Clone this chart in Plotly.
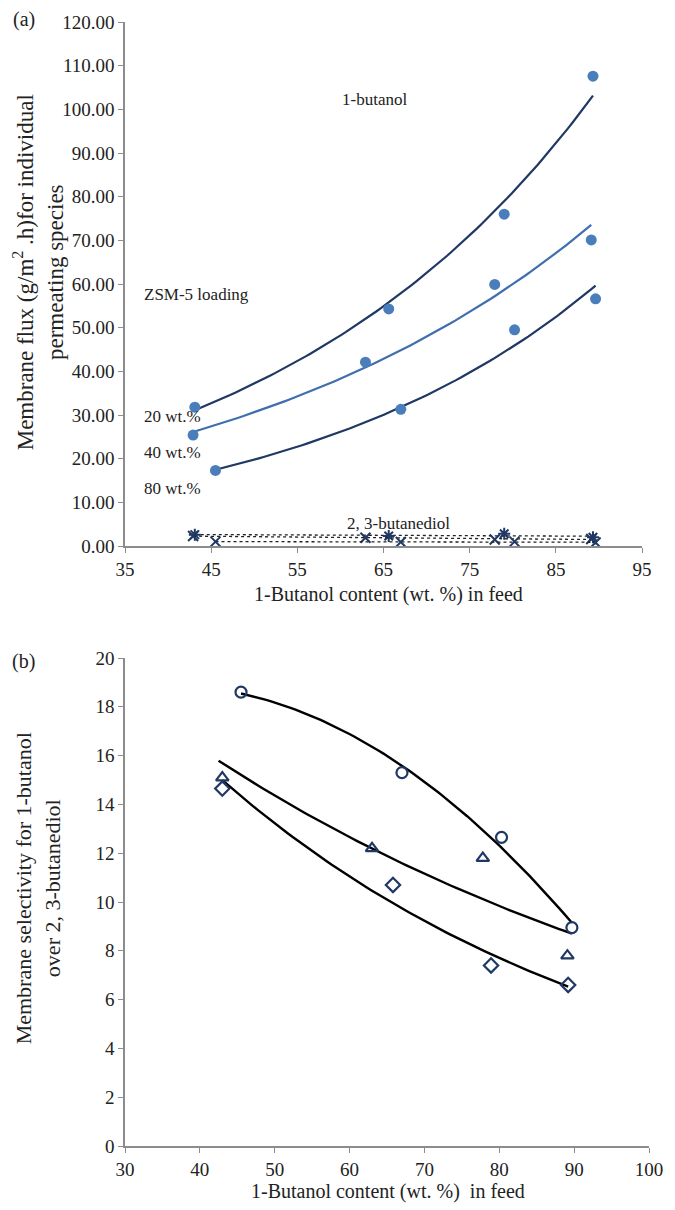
import numpy as np
import plotly.graph_objects as go

# ---- (a) flux of 1-butanol, by ZSM-5 loading ----
feed_20 = [43.1, 65.6, 79.0, 89.3]
butanol_20 = [31.8, 54.3, 76.0, 107.6]
feed_40 = [42.9, 62.9, 77.9, 89.1]
butanol_40 = [25.4, 42.1, 59.9, 70.1]
feed_80 = [45.5, 67.0, 80.2, 89.6]
butanol_80 = [17.3, 31.3, 49.5, 56.6]

# 2,3-butanediol flux for the same membranes
diol_20 = [2.6, 2.3, 2.8, 2.0]
diol_40 = [2.3, 1.9, 1.5, 1.6]
diol_80 = [1.0, 0.9, 1.0, 0.8]

# ---- (b) selectivity 1-butanol / 2,3-butanediol ----
sel_x_circle = [45.5, 67.0, 80.3, 89.7]
sel_circle = [18.6, 15.3, 12.65, 8.95]
sel_x_tri = [43.0, 63.0, 77.8, 89.1]
sel_tri = [15.1, 12.2, 11.8, 7.8]
sel_x_dia = [43.0, 65.8, 78.9, 89.2]
sel_dia = [14.65, 10.7, 7.4, 6.6]

FONT = "Liberation Serif, Times New Roman, serif"
NAVY = "#1F3864"
MID = "#3F6FAE"
DOT = "#4A7EBB"
AXIS = "#8C8C8C"
INK = "#222222"


def exp_trend(x, y, lo=None, hi=None, n=80):
    k, b = np.polyfit(x, np.log(y), 1)
    xs = np.linspace(min(x) if lo is None else lo, max(x) if hi is None else hi, n)
    return xs, np.exp(b + k * xs)


def poly_trend(x, y, deg=2, n=80):
    c = np.polyfit(x, y, deg)
    xs = np.linspace(min(x), max(x), n)
    return xs, np.polyval(c, xs)


fig = go.Figure()

# flux trend lines + points
for fx, fy, col in [(feed_20, butanol_20, NAVY), (feed_40, butanol_40, MID), (feed_80, butanol_80, NAVY)]:
    xs, ys = exp_trend(fx, fy)
    fig.add_trace(go.Scatter(x=xs, y=ys, mode="lines", line=dict(color=col, width=2.2),
                             xaxis="x", yaxis="y", showlegend=False, hoverinfo="skip"))
    fig.add_trace(go.Scatter(x=fx, y=fy, mode="markers",
                             marker=dict(color=DOT, size=11, symbol="circle"),
                             xaxis="x", yaxis="y", showlegend=False))

for fx, fy, sym in [(feed_20, diol_20, "asterisk-open"), (feed_40, diol_40, "x-thin-open"),
                    (feed_80, diol_80, "x-thin-open")]:
    xs, ys = exp_trend(fx, fy)
    fig.add_trace(go.Scatter(x=xs, y=ys, mode="lines", line=dict(color=INK, width=1.3, dash="dot"),
                             xaxis="x", yaxis="y", showlegend=False, hoverinfo="skip"))
    fig.add_trace(go.Scatter(x=fx, y=fy, mode="markers",
                             marker=dict(symbol=sym, size=10, color=NAVY, line=dict(color=NAVY, width=2)),
                             xaxis="x", yaxis="y", showlegend=False))

# selectivity trend lines + points
trend_lines = [
    poly_trend(sel_x_circle, sel_circle),
    exp_trend(sel_x_tri, sel_tri, lo=42.5, hi=89.7),
    exp_trend(sel_x_dia, sel_dia),
]
for xs, ys in trend_lines:
    fig.add_trace(go.Scatter(x=xs, y=ys, mode="lines", line=dict(color="black", width=2.4),
                             xaxis="x2", yaxis="y2", showlegend=False, hoverinfo="skip"))

for sx, sy, sym in [(sel_x_circle, sel_circle, "circle-open"), (sel_x_tri, sel_tri, "triangle-up-open"),
                    (sel_x_dia, sel_dia, "diamond-open")]:
    fig.add_trace(go.Scatter(x=sx, y=sy, mode="markers",
                             marker=dict(symbol=sym, size=11, color=NAVY, line=dict(color=NAVY, width=2.2)),
                             xaxis="x2", yaxis="y2", showlegend=False))

axis_common = dict(showline=True, linecolor=AXIS, linewidth=1.5, ticks="outside", ticklen=5,
                   tickcolor=AXIS, tickwidth=1.2, showgrid=False, zeroline=False,
                   tickfont=dict(family=FONT, size=19, color=INK))

L, R, T, B = 125, 18, 22, 64
W, H = 675, 1210
pw, ph = W - L - R, H - T - B

fig.update_layout(
    width=W, height=H,
    margin=dict(l=L, r=R, t=T, b=B),
    plot_bgcolor="white", paper_bgcolor="white",
    font=dict(family=FONT, color=INK),
    xaxis=dict(range=[35, 95], dtick=10, tick0=35, domain=[0, (650 - L) / pw], anchor="y", **axis_common),
    yaxis=dict(range=[0, 120], dtick=10, tickformat=".2f", domain=[(1146 - 546) / ph, 1], anchor="x",
               **axis_common),
    xaxis2=dict(range=[30, 100], dtick=10, domain=[0, 1], anchor="y2", **axis_common),
    yaxis2=dict(range=[0, 20], dtick=2, domain=[0, (1146 - 658) / ph], anchor="x2", **axis_common),
)


def page(x, y, s, size=17, angle=0, xanchor="center", yanchor="middle", align="center"):
    """Place a text at a page-pixel position."""
    fig.add_annotation(x=(x - L) / pw, y=(H - B - y) / ph, xref="paper", yref="paper", text=s,
                       showarrow=False, textangle=angle, xanchor=xanchor, yanchor=yanchor, align=align,
                       font=dict(family=FONT, size=size, color=INK))


page(22, 20, "(a)", size=20)
page(22, 662, "(b)", size=20)
page(37, 272, "Membrane flux (g/m<sup>2</sup> .h)for individual<br>permeating species", size=23, angle=-90)
page(37, 888, "Membrane selectivity for 1-butanol<br>over 2, 3-butanediol", size=22, angle=-90)
page(393, 594, "1-Butanol content (wt. %) in feed", size=20)
page(392, 1191, "1-Butanol content (wt. %)  in feed", size=20)

page(378, 99, "1-butanol", size=17)
page(142, 294, "ZSM-5 loading", size=17, xanchor="left")
page(142, 417, "20 wt.%", size=17, xanchor="left")
page(142, 453, "40 wt.%", size=17, xanchor="left")
page(142, 488, "80 wt.%", size=17, xanchor="left")
page(403, 523, "2, 3-butanediol", size=17)

fig.write_html("out.html")
